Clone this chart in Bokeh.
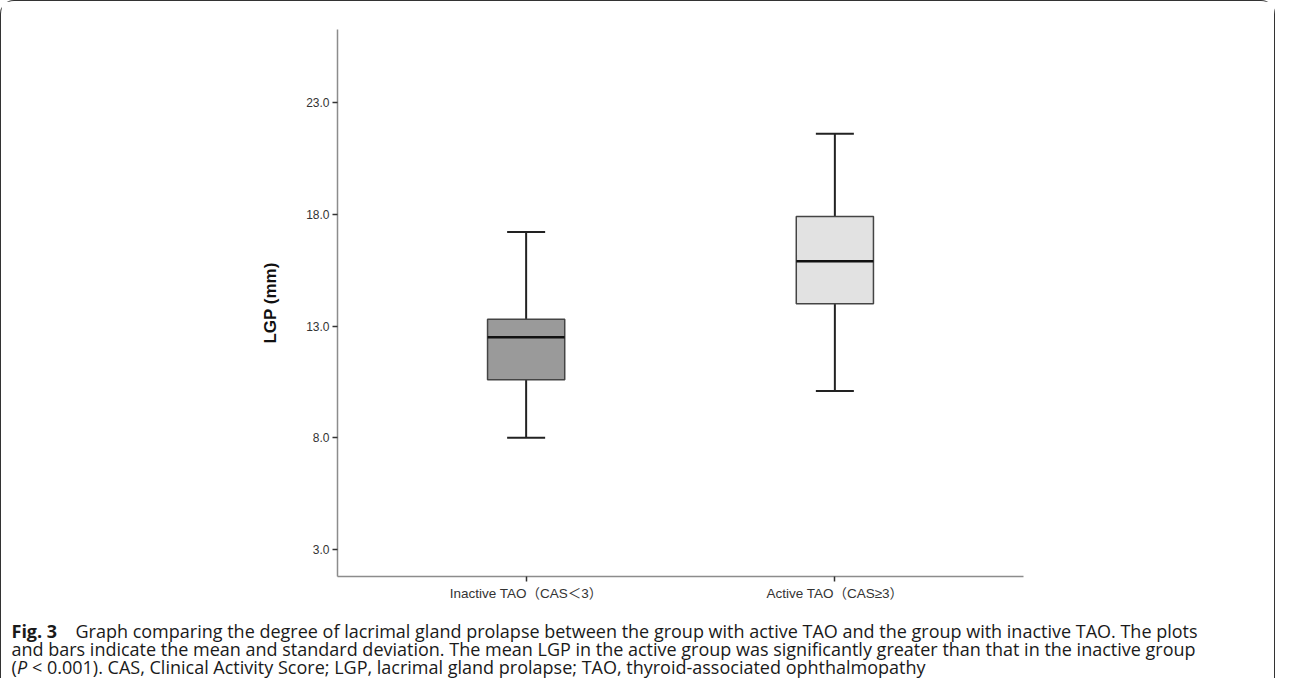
from bokeh.plotting import figure
from bokeh.layouts import column
from bokeh.models import (FactorRange, Range1d, FixedTicker, PrintfTickFormatter,
                          ColumnDataSource)
from bokeh.core.properties import value
from bokeh.embed import file_html
from bokeh.resources import INLINE

# ---- data ----
groups = ["Inactive TAO（CAS＜3）", "Active TAO（CAS≥3）"]
lower = [8.0, 10.1]
q1 = [10.6, 14.0]
median = [12.5, 15.9]
q3 = [13.3, 17.9]
upper = [17.2, 21.6]
fills = ["#9a9a9a", "#e2e2e2"]
y_ticks = [3.0, 8.0, 13.0, 18.0, 23.0]

caption_bold = "Fig. 3"
caption_1 = ("Graph comparing the degree of lacrimal gland prolapse between the group "
             "with active TAO and the group with inactive TAO. The plots")
caption_2 = ("and bars indicate the mean and standard deviation. The mean LGP in the active "
             "group was significantly greater than that in the inactive group")
caption_3a = "("
caption_3b = "P"
caption_3c = ("< 0.001). CAS, Clinical Activity Score; LGP, lacrimal gland prolapse; "
              "TAO, thyroid-associated ophthalmopathy")

src = ColumnDataSource(dict(g=groups, lower=lower, q1=q1, median=median,
                            q3=q3, upper=upper, fill=fills))

W = 1273
H_PLOT = 610
H_CAP = 67

p = figure(width=W, height=H_PLOT, output_backend="svg", toolbar_location=None,
           x_range=FactorRange(*groups, range_padding=0.111),
           y_range=Range1d(1.8, 26.26),
           min_border_left=336, min_border_right=251,
           min_border_top=28, min_border_bottom=H_PLOT - 575)
p.frame_align = False

p.outline_line_color = None
p.xgrid.grid_line_color = None
p.ygrid.grid_line_color = None
p.background_fill_color = "white"

# whiskers
p.segment(x0="g", y0="q3", x1="g", y1="upper", source=src, line_color="#222222", line_width=2)
p.segment(x0="g", y0="q1", x1="g", y1="lower", source=src, line_color="#222222", line_width=2)
p.scatter(x="g", y="upper", source=src, marker="dash", size=38, line_color="#222222", line_width=2)
p.scatter(x="g", y="lower", source=src, marker="dash", size=38, line_color="#222222", line_width=2)
# boxes
p.vbar(x="g", bottom="q1", top="q3", width=0.25, source=src, fill_color="fill",
       line_color="#444444", line_width=1.5)
# medians
p.scatter(x="g", y="median", source=src, marker="dash", size=77, line_color="#111111", line_width=2.5)

# axes
for ax in (p.xaxis[0], p.yaxis[0]):
    ax.axis_line_color = "#8c8c8c"
    ax.axis_line_width = 1.5
    ax.major_tick_line_color = "#333333"
    ax.major_tick_line_width = 1.5
    ax.major_tick_out = 5
    ax.major_tick_in = 0
    ax.minor_tick_line_color = None
    ax.major_label_text_font = "Liberation Sans, Noto Sans CJK SC"
    ax.major_label_text_color = "#333333"

p.xaxis.major_label_text_font_size = "13.5px"
p.yaxis.major_label_text_font_size = "12px"
p.yaxis.ticker = FixedTicker(ticks=y_ticks)
p.yaxis.formatter = PrintfTickFormatter(format="%.1f")
p.yaxis.major_label_standoff = 3
p.yaxis.axis_label = "LGP (mm)"
p.yaxis.axis_label_text_font = "Liberation Sans"
p.yaxis.axis_label_text_font_style = "bold"
p.yaxis.axis_label_text_font_size = "17px"
p.yaxis.axis_label_text_color = "#111111"
p.yaxis.axis_label_standoff = 23
p.xaxis.major_label_standoff = 4

# ---- caption panel (pixel-mapped ranges, y downward) ----
c = figure(width=W, height=H_CAP, output_backend="svg", toolbar_location=None,
           x_range=Range1d(0, W), y_range=Range1d(H_CAP, 0),
           x_axis_type=None, y_axis_type=None, min_border=0)
c.frame_align = False
c.outline_line_color = None
c.xgrid.grid_line_color = None
c.ygrid.grid_line_color = None

cap_font = value("Open Sans")
cap_size = "18px"
cx = 10
base = [19, 37, 55]   # alphabetic baselines within the caption panel


def cap(x, y, text, style="normal"):
    c.text(x=[x], y=[y], text=[text], text_font=cap_font, text_font_size=cap_size,
           text_font_style=style, text_baseline="alphabetic", text_align="left",
           text_color="#1a1a1a")


cap(cx, base[0], caption_bold, "bold")
cap(cx + 64, base[0], caption_1)
cap(cx, base[1], caption_2)
cap(cx, base[2], caption_3a)
cap(cx + 5.5, base[2], caption_3b, "italic")
cap(cx + 20.5, base[2], caption_3c)

layout = column(p, c, spacing=0)
layout.styles = {"border": "1.5px solid #333", "border-bottom": "none",
                 "border-radius": "14px 14px 0 0"}

open("out.html", "w").write(file_html(layout, INLINE))
